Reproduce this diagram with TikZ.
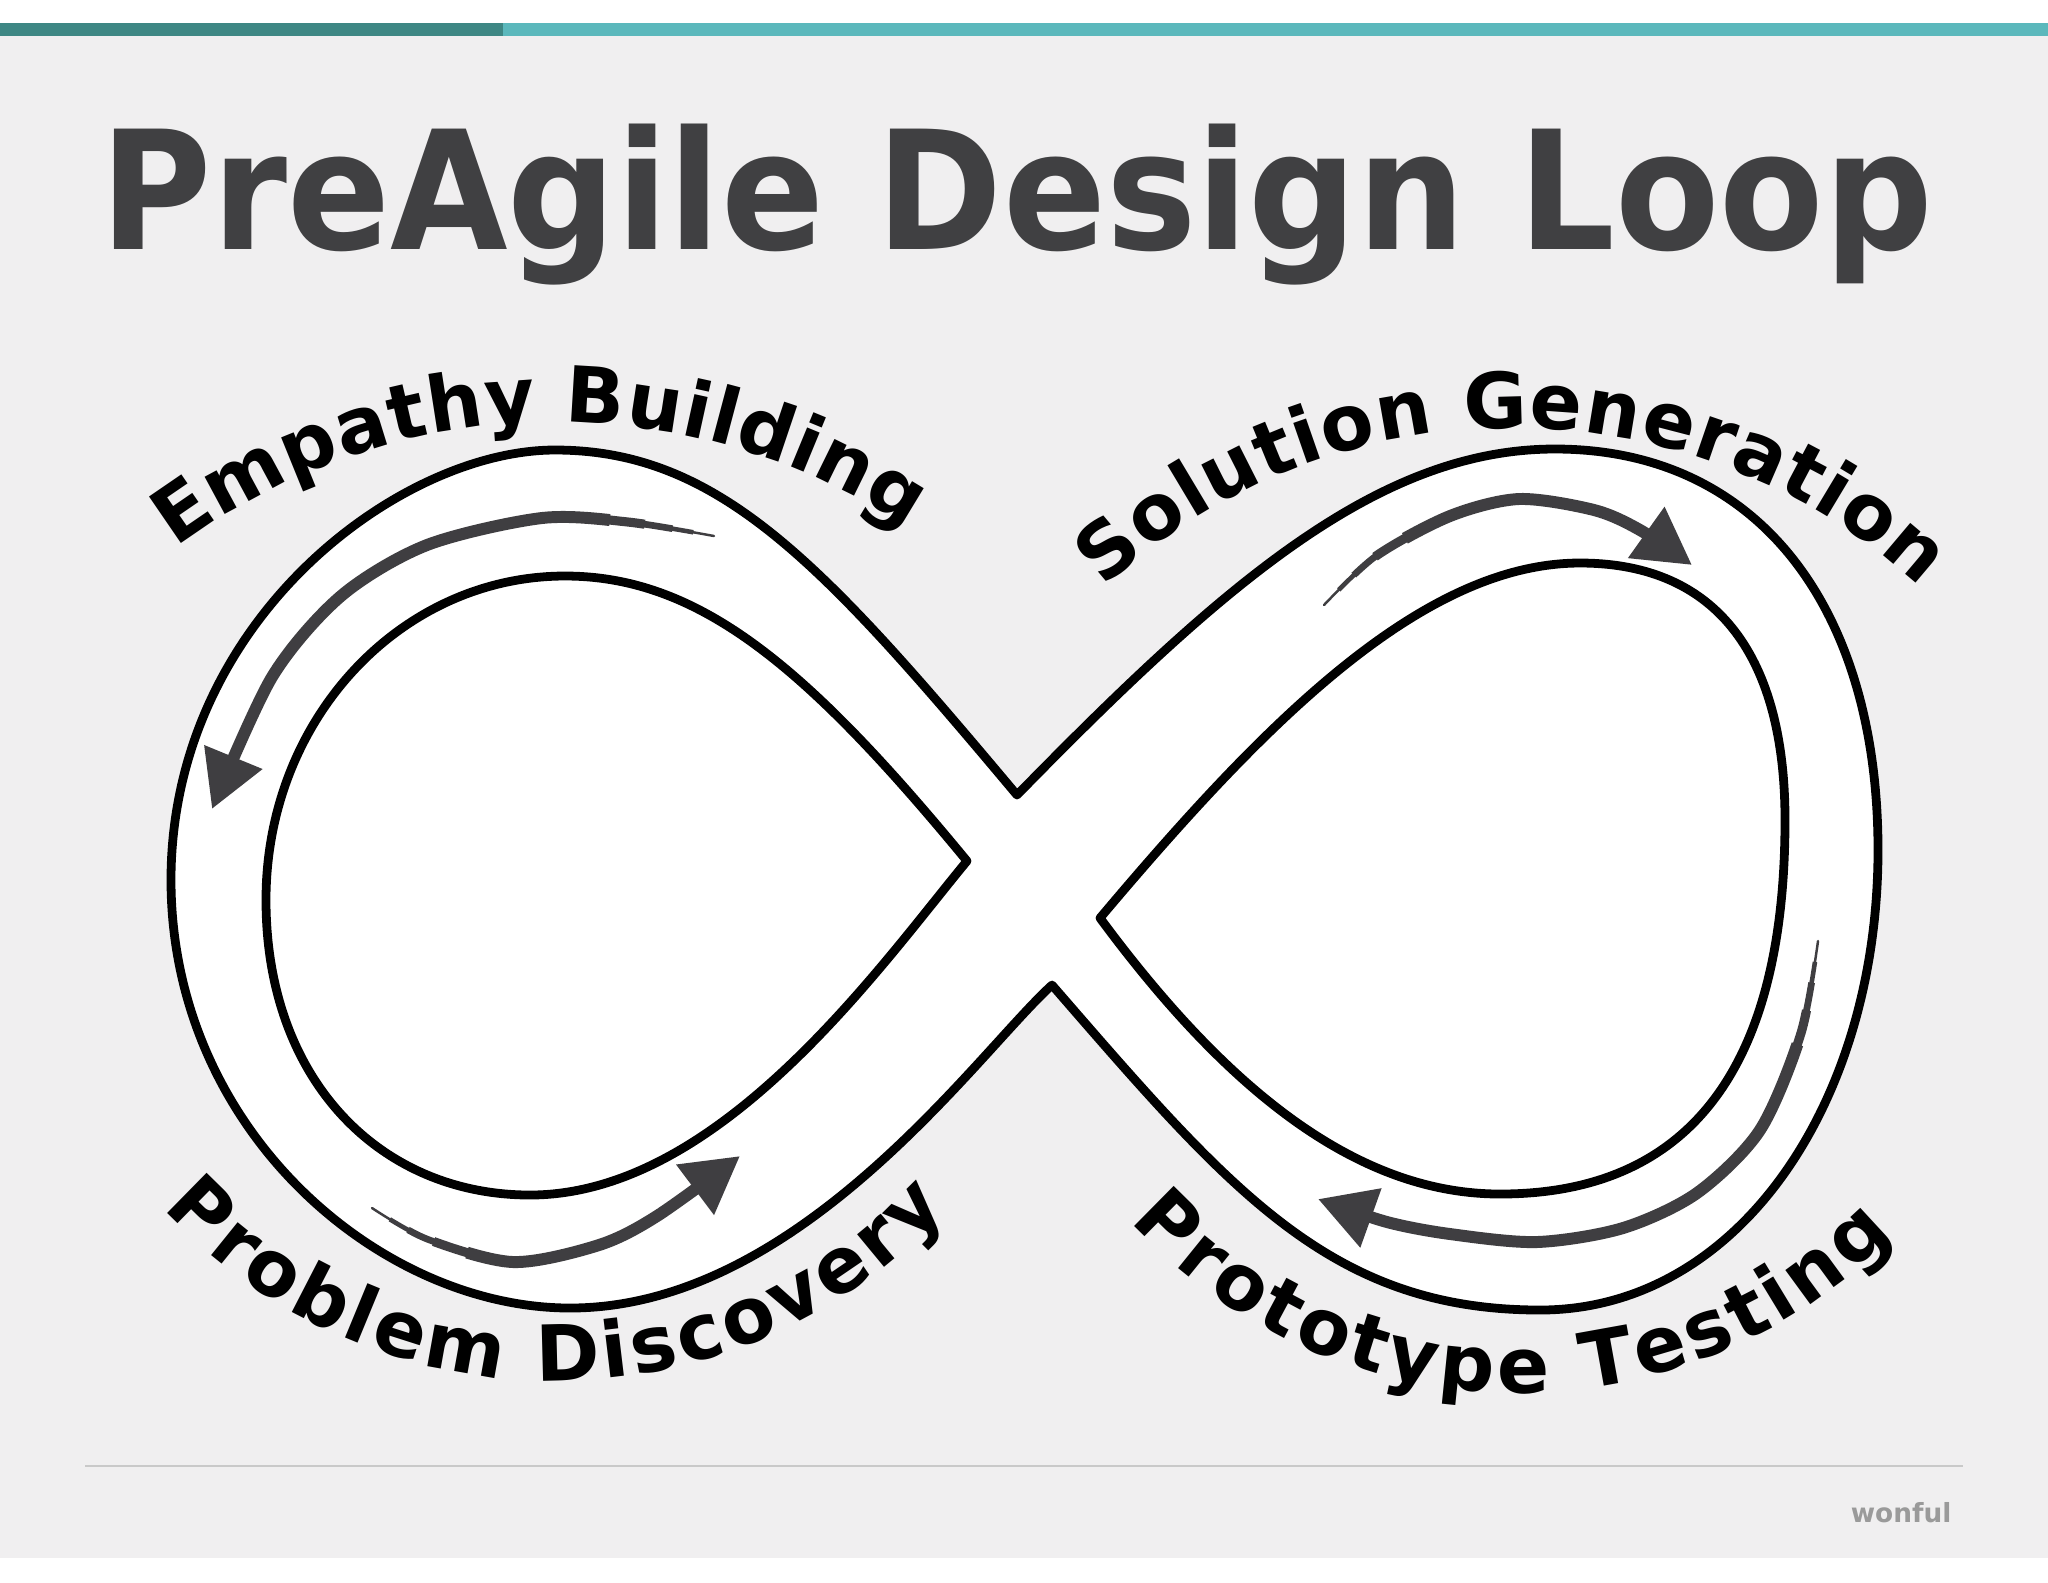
\documentclass[tikz,border=0pt]{standalone}
\usepackage{fontspec}
\setmainfont{DejaVu Sans}
\usetikzlibrary{arrows.meta,decorations.text}
\definecolor{barteal}{HTML}{3E8784}
\definecolor{lightteal}{HTML}{5BB8BC}
\definecolor{paper}{HTML}{F0EFF0}
\definecolor{ink}{HTML}{404042}
\definecolor{sweepgray}{HTML}{3F3E41}
\definecolor{rulegray}{HTML}{C9C9C9}
\definecolor{markgray}{HTML}{9A9A9A}
\newcommand\labelfont{\bfseries\fontsize{22}{26}\selectfont}
\tikzset{
  rim/.style={draw=black, line width=2.5pt, line join=round, line cap=round},
  sweeptail/.style={draw=sweepgray, line width=0.7pt, line cap=round, shorten >=10pt},
  sweeplayer/.style 2 args={draw=sweepgray, line width=#1, shorten >=10pt,
    dash pattern=on 2000pt off #2, dash phase=2000pt},
  sweep/.style={draw=sweepgray, line width=3.4pt,
    dash pattern=on 2000pt off 30pt, dash phase=2000pt, -{Triangle[length=16pt,width=17pt]}},
  bendlabel/.style={decorate, decoration={text along path, text align={fit to path}, text={|\labelfont|#1}}}
}
\def\drawrim{\draw[rim]}
\newcommand\drawsweep[1]{%
  \draw[sweeptail] plot[smooth] coordinates {#1};
  \draw[sweeplayer={1.3pt}{6pt}] plot[smooth] coordinates {#1};
  \draw[sweeplayer={1.9pt}{12pt}] plot[smooth] coordinates {#1};
  \draw[sweeplayer={2.6pt}{20pt}] plot[smooth] coordinates {#1};
  \draw[sweep] plot[smooth] coordinates {#1};}

\begin{document}
\begin{tikzpicture}[x=0.1mm,y=-0.1mm]
\useasboundingbox (0,0) rectangle (2048,1582);
\fill[white] (0,0) rectangle (2048,1582);
\fill[paper] (0,36) rectangle (2048,1558);
\fill[barteal] (0,23) rectangle (503,36);
\fill[lightteal] (503,23) rectangle (2048,36);
\node[anchor=base, inner sep=0pt, text=ink, font=\bfseries\fontsize{47}{56}\selectfont] (title) at (1017,249) {\scalebox{0.92}[1]{PreAgile Design Loop}};

\coordinate (topnotch) at (1017,795);
\coordinate (botnotch) at (1052,985);
\coordinate (leftcorner) at (967,861);
\coordinate (rightcorner) at (1100,918);

\drawrim[fill=white] (topnotch) .. controls (824,565) and (720,450) .. (555,450)
  .. controls (400,450) and (171,620) .. (171,880)
  .. controls (171,1130) and (380,1308) .. (570,1308)
  .. controls (800,1308) and (978,1052) .. (botnotch)
  .. controls (1230,1190) and (1330,1310) .. (1540,1310)
  .. controls (1740,1310) and (1878,1100) .. (1878,850)
  .. controls (1878,610) and (1760,449) .. (1555,449)
  .. controls (1380,449) and (1227,580) .. (topnotch) -- cycle;
\drawrim (leftcorner) .. controls (808,668) and (700,576) .. (565,576)
  .. controls (400,576) and (266,720) .. (266,900)
  .. controls (266,1080) and (380,1195) .. (530,1195)
  .. controls (720,1195) and (880,966) .. (leftcorner) -- cycle;
\drawrim (rightcorner) .. controls (1261,727) and (1420,563) .. (1580,563)
  .. controls (1720,563) and (1785,660) .. (1785,820)
  .. controls (1785,1080) and (1680,1194) .. (1500,1194)
  .. controls (1350,1194) and (1219,1079) .. (rightcorner) -- cycle;

\drawsweep{(714,536) (628,522) (542,518) (427,545) (341,596) (272,677) (212,809)}
\drawsweep{(372,1208) (427,1239) (513,1262) (599,1245) (657,1216) (740,1156)}
\drawsweep{(1324,605) (1376,556) (1450,516) (1519,499) (1594,510) (1640,530) (1692,565)}
\drawsweep{(1818,941) (1801,1033) (1760,1130) (1697,1193) (1623,1228) (1537,1242) (1450,1234) (1387,1222) (1318,1199)}

\coordinate (empathy) at (556,1056);
\coordinate (solution) at (1512,1030);
\coordinate (problem) at (555,849);
\coordinate (prototype) at (1518,868);
\path[bendlabel=Empathy Building] (empathy) ++(233.2:634) arc[start angle=233.2, end angle=303.7, radius=634];
\path[bendlabel=Solution Generation] (solution) ++(227.3:602) arc[start angle=227.3, end angle=312.7, radius=602];
\path[bendlabel=Problem Discovery] (problem) ++(137.5:532) arc[start angle=137.5, end angle=42.5, radius=532];
\path[bendlabel=Prototype Testing] (prototype) ++(137.7:525) arc[start angle=137.7, end angle=44.3, radius=525];

\draw[rulegray, line width=0.7pt] (85,1466) -- (1963,1466);
\node[anchor=base east, inner sep=0pt, text=markgray, font=\bfseries\fontsize{7.5}{9}\selectfont] (brand) at (1952,1522) {wonful};
\end{tikzpicture}
\end{document}
